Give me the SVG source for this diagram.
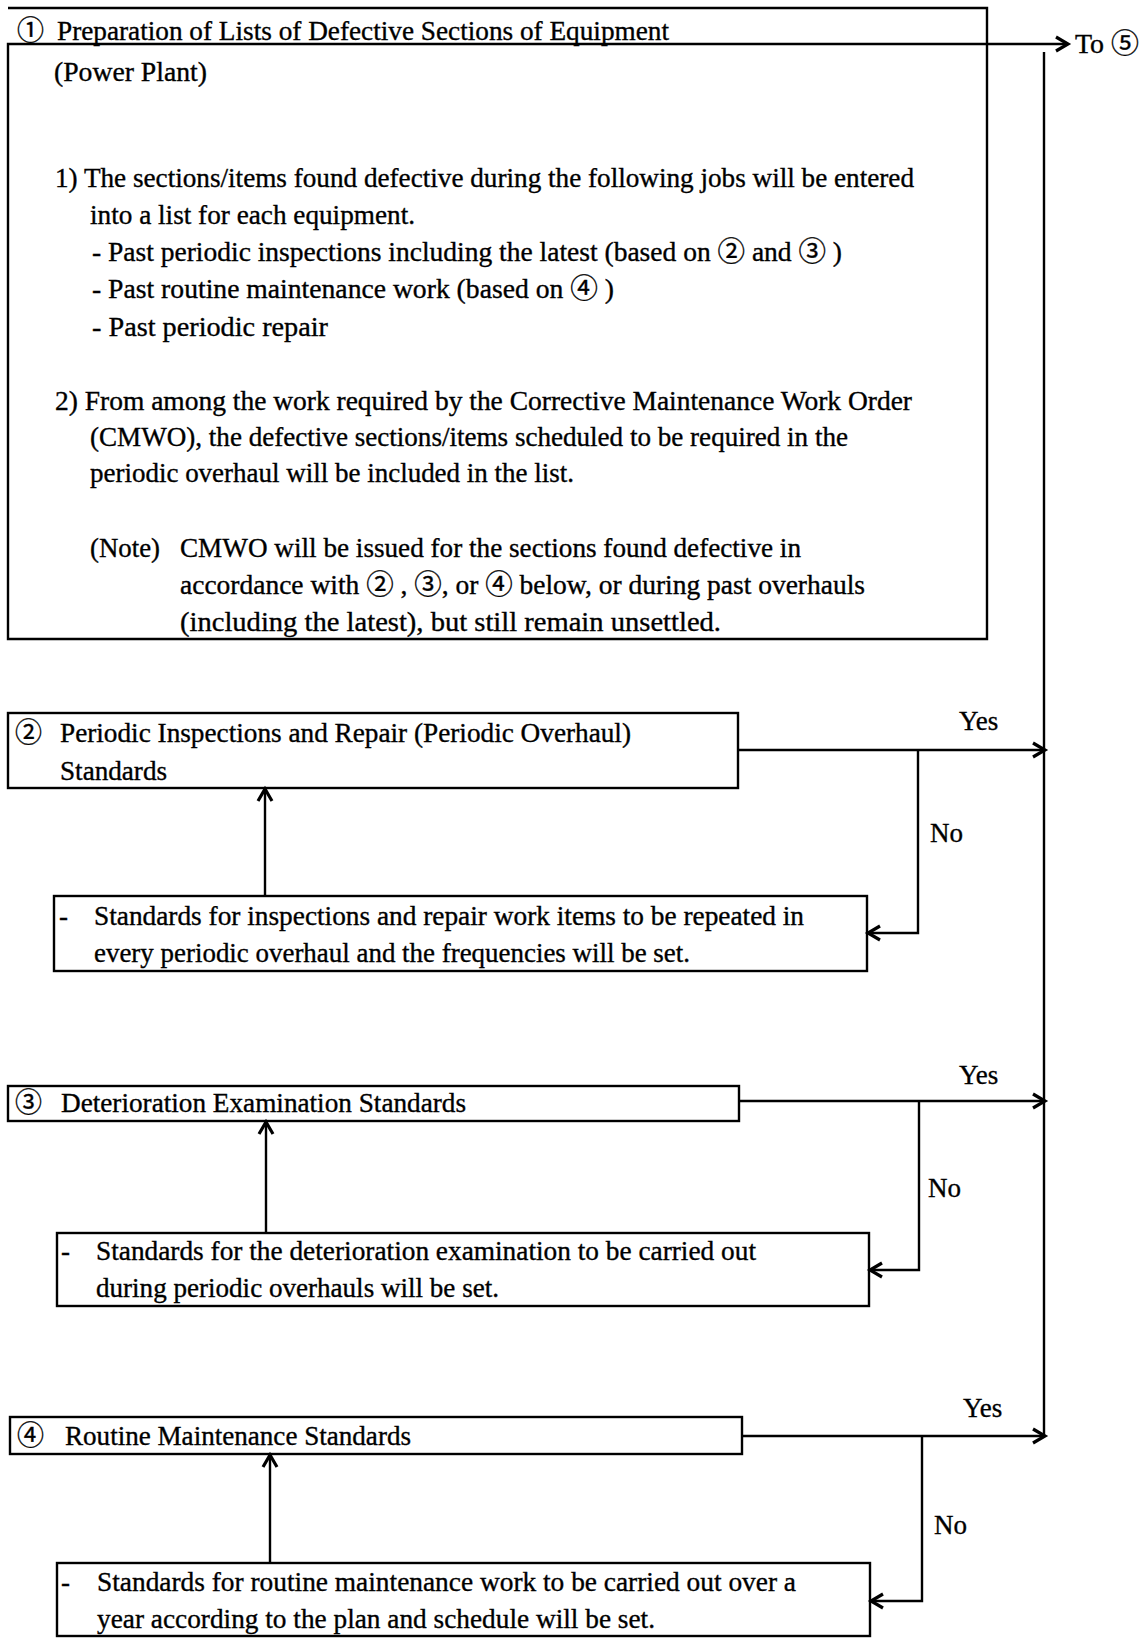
<svg xmlns="http://www.w3.org/2000/svg" width="1142" height="1639" viewBox="0 0 1142 1639">
<defs>
<style>
text{font-family:"Liberation Serif","DejaVu Serif","Noto Sans CJK JP",serif;font-size:27px;fill:#000;stroke:#000;stroke-width:0.35}
.b{fill:none;stroke:#000;stroke-width:2.4}
.c{fill:none;stroke:#000;stroke-width:2.4}
</style>
<marker id="ah" markerUnits="userSpaceOnUse" markerWidth="18" markerHeight="18" refX="14" refY="9" orient="auto">
<path d="M2,2 L14,9 L2,16" fill="none" stroke="#000" stroke-width="3.2"/>
</marker>
</defs>
<rect width="1142" height="1639" fill="#fff"/>

<g id="node1">
<path class="b" d="M8,8 H987 V639 H8 V44 H987"/>
<text x="17" y="40">①</text>
<text x="57" y="40" textLength="612" lengthAdjust="spacingAndGlyphs">Preparation of Lists of Defective Sections of Equipment</text>
<text x="54" y="81" textLength="153" lengthAdjust="spacingAndGlyphs">(Power Plant)</text>
<text x="55" y="187" textLength="859" lengthAdjust="spacingAndGlyphs">1) The sections/items found defective during the following jobs will be entered</text>
<text x="90" y="224" textLength="325" lengthAdjust="spacingAndGlyphs">into a list for each equipment.</text>
<text x="92" y="261" textLength="750" lengthAdjust="spacingAndGlyphs">- Past periodic inspections including the latest (based on ② and ③ )</text>
<text x="92" y="298" textLength="522" lengthAdjust="spacingAndGlyphs">- Past routine maintenance work (based on ④ )</text>
<text x="92" y="336" textLength="236" lengthAdjust="spacingAndGlyphs">- Past periodic repair</text>
<text x="55" y="410" textLength="857" lengthAdjust="spacingAndGlyphs">2) From among the work required by the Corrective Maintenance Work Order</text>
<text x="90" y="446" textLength="758" lengthAdjust="spacingAndGlyphs">(CMWO), the defective sections/items scheduled to be required in the</text>
<text x="90" y="482" textLength="484" lengthAdjust="spacingAndGlyphs">periodic overhaul will be included in the list.</text>
<text x="90" y="557" textLength="70" lengthAdjust="spacingAndGlyphs">(Note)</text>
<text x="180" y="557" textLength="621" lengthAdjust="spacingAndGlyphs">CMWO will be issued for the sections found defective in</text>
<text x="180" y="594" textLength="685" lengthAdjust="spacingAndGlyphs">accordance with ② , ③, or ④ below, or during past overhauls</text>
<text x="180" y="631" textLength="541" lengthAdjust="spacingAndGlyphs">(including the latest), but still remain unsettled.</text>
</g>

<g id="node2">
<rect class="b" x="8" y="713" width="730" height="75"/>
<text x="15" y="742">②</text>
<text x="60" y="742" textLength="571" lengthAdjust="spacingAndGlyphs">Periodic Inspections and Repair (Periodic Overhaul)</text>
<text x="60" y="780" textLength="107" lengthAdjust="spacingAndGlyphs">Standards</text>
</g>

<g id="node2a">
<rect class="b" x="54" y="896" width="813" height="75"/>
<text x="59" y="925">-</text>
<text x="94" y="925" textLength="710" lengthAdjust="spacingAndGlyphs">Standards for inspections and repair work items to be repeated in</text>
<text x="94" y="962" textLength="596" lengthAdjust="spacingAndGlyphs">every periodic overhaul and the frequencies will be set.</text>
</g>

<g id="node3">
<rect class="b" x="8" y="1086" width="731" height="35"/>
<text x="15" y="1112">③</text>
<text x="61" y="1112" textLength="405" lengthAdjust="spacingAndGlyphs">Deterioration Examination Standards</text>
</g>

<g id="node3a">
<rect class="b" x="57" y="1233" width="812" height="73"/>
<text x="61" y="1260">-</text>
<text x="96" y="1260" textLength="660" lengthAdjust="spacingAndGlyphs">Standards for the deterioration examination to be carried out</text>
<text x="96" y="1297" textLength="403" lengthAdjust="spacingAndGlyphs">during periodic overhauls will be set.</text>
</g>

<g id="node4">
<rect class="b" x="10" y="1417" width="732" height="37"/>
<text x="17" y="1445">④</text>
<text x="65" y="1445" textLength="346" lengthAdjust="spacingAndGlyphs">Routine Maintenance Standards</text>
</g>

<g id="node4a">
<rect class="b" x="57" y="1563" width="813" height="73"/>
<text x="61" y="1591">-</text>
<text x="97" y="1591" textLength="699" lengthAdjust="spacingAndGlyphs">Standards for routine maintenance work to be carried out over a</text>
<text x="97" y="1628" textLength="558" lengthAdjust="spacingAndGlyphs">year according to the plan and schedule will be set.</text>
</g>

<g id="node5">
<text x="1075" y="53" textLength="64" lengthAdjust="spacingAndGlyphs">To ⑤</text>
</g>

<g id="connectors">
<line class="c" x1="987" y1="44" x2="1068" y2="44" marker-end="url(#ah)"/>
<line class="c" x1="1044" y1="52" x2="1044" y2="1437"/>

<line class="c" x1="738" y1="750" x2="1045" y2="750" marker-end="url(#ah)"/>
<polyline class="c" points="918,750 918,933 868,933" marker-end="url(#ah)"/>
<line class="c" x1="265" y1="896" x2="265" y2="789" marker-end="url(#ah)"/>

<line class="c" x1="739" y1="1101" x2="1045" y2="1101" marker-end="url(#ah)"/>
<polyline class="c" points="919,1101 919,1270 870,1270" marker-end="url(#ah)"/>
<line class="c" x1="266" y1="1233" x2="266" y2="1122" marker-end="url(#ah)"/>

<line class="c" x1="742" y1="1436" x2="1045" y2="1436" marker-end="url(#ah)"/>
<polyline class="c" points="922,1436 922,1601 871,1601" marker-end="url(#ah)"/>
<line class="c" x1="270" y1="1563" x2="270" y2="1455" marker-end="url(#ah)"/>

<text x="959" y="730">Yes</text>
<text x="930" y="842">No</text>
<text x="959" y="1084">Yes</text>
<text x="928" y="1197">No</text>
<text x="963" y="1417">Yes</text>
<text x="934" y="1534">No</text>
</g>
</svg>
